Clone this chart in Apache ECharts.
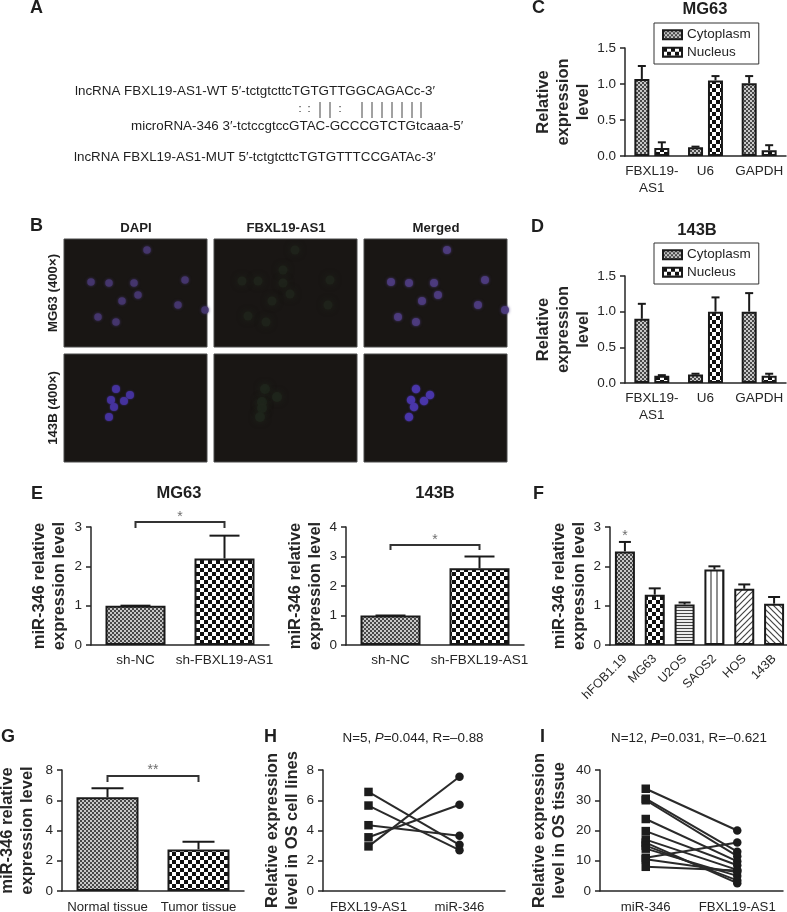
<!DOCTYPE html>
<html><head><meta charset="utf-8">
<style>html,body{margin:0;padding:0;background:#fff}#c{width:787px;height:912px}</style>
<script src="https://cdn.jsdelivr.net/npm/echarts@6/dist/echarts.min.js"></script>
</head><body><div id="c"></div>
<script>
// ---------- DATA ----------
const seqWT = "lncRNA FBXL19-AS1-WT 5′-tctgtcttcTGTGTTGGCAGACc-3′";
const seqMi = "microRNA-346 3′-tctccgtccGTAC-GCCCGTCTGtcaaa-5′";
const seqMUT = "lncRNA FBXL19-AS1-MUT 5′-tctgtcttcTGTGTTTCCGATAc-3′";

const cdCategories = ["FBXL19-\nAS1", "U6", "GAPDH"];
const cCyto = [1.07, 0.12, 1.01];
const cCytoTop = [1.25, 0.13, 1.11];
const cNuc = [0.11, 1.05, 0.08];
const cNucTop = [0.19, 1.11, 0.15];
const dCyto = [0.90, 0.12, 1.00];
const dCytoTop = [1.11, 0.13, 1.26];
const dNuc = [0.10, 1.00, 0.10];
const dNucTop = [0.11, 1.20, 0.13];

const eCategories = ["sh-NC", "sh-FBXL19-AS1"];
const e1Values = [1.0, 2.2];
const e1Top = [1.0, 2.78];
const e2Values = [1.0, 2.6];
const e2Top = [1.0, 3.0];

const fCategories = ["hFOB1.19", "MG63", "U2OS", "SAOS2", "HOS", "143B"];
const fValues = [2.38, 1.28, 1.03, 1.92, 1.43, 1.05];
const fTop = [2.62, 1.44, 1.08, 2.0, 1.54, 1.22];

const gCategories = ["Normal tissue", "Tumor tissue"];
const gValues = [6.2, 2.75];
const gTop = [6.8, 3.25];

const hCategories = ["FBXL19-AS1", "miR-346"];
const hLeft = [6.55, 5.65, 4.35, 3.55, 2.95];
const hRight = [3.05, 2.7, 3.65, 5.7, 7.55];

const iCategories = ["miR-346", "FBXL19-AS1"];
const iLeft = [33.8, 30.5, 30, 23.8, 19.8, 17, 16, 15, 14, 11, 10.5, 8];
const iRight = [20, 13, 11.5, 9.8, 8.5, 7, 2.6, 3.5, 5, 16, 6.3, 6.8];

const imgCols = ["DAPI", "FBXL19-AS1", "Merged"];
const imgRows = ["MG63 (400×)", "143B (400×)"];
const mg63Blue = [[83,11],[27,43],[45,44],[70,44],[121,41],[74,56],[58,62],[114,66],[141,71],[34,78],[52,83]];
const mg63Green = [[81,11],[28,42],[44,42],[69,31],[69,44],[76,55],[58,62],[116,41],[114,66],[34,77],[52,83]];
const b143Blue = [[52,35],[47,46],[66,41],[60,47],[50,53],[45,63]];
const b143Green = [[51,35],[48,48],[63,43],[48,54],[46,63]];

// ---------- STYLE HELPERS ----------
const FONT = '"Liberation Sans", Arial, sans-serif';
const INK = '#262626';
function tile(w, h, draw) {
  const c = document.createElement('canvas'); c.width = w; c.height = h;
  const x = c.getContext('2d'); draw(x); return { image: c, repeat: 'repeat' };
}
function checker(s, a, b) {
  return tile(2*s, 2*s, x => { x.fillStyle = b; x.fillRect(0,0,2*s,2*s); x.fillStyle = a; x.fillRect(0,0,s,s); x.fillRect(s,s,s,s); });
}
function stripes(dir) {
  return tile(6, 6, x => {
    x.fillStyle = '#fff'; x.fillRect(0,0,6,6); x.strokeStyle = '#444'; x.lineWidth = 1.2;
    const ln = (a,b,c,d) => { x.beginPath(); x.moveTo(a,b); x.lineTo(c,d); x.stroke(); };
    if (dir === 'h') { ln(0,1.5,6,1.5); ln(0,4.5,6,4.5); }
    else if (dir === 'v') { ln(3,0,3,6); }
    else if (dir === '/') { ln(-1,7,7,-1); ln(-1,1,1,-1); ln(5,7,7,5); }
    else { ln(-1,-1,7,7); ln(5,-1,7,1); ln(-1,5,1,7); }
  });
}
const fine = checker(2, '#484848', '#c8c8c8');
const coarse = checker(4, '#111', '#fff');
const hLines = stripes('h'), vLines = stripes('v'), dUp = stripes('/'), dDown = stripes('\\');

const grid = [], xAxis = [], yAxis = [], series = [], legend = [], title = [];

function addAxes(box, cats, max, interval, name, nameGap, opts) {
  opts = opts || {};
  grid.push(Object.assign({ containLabel: false, outerBoundsMode: 'none' }, box));
  const idx = grid.length - 1;
  xAxis.push({ gridIndex: idx, type: 'category', data: cats,
    axisLine: { lineStyle: { color: INK, width: 1.5 } },
    axisTick: { alignWithLabel: true, length: 4, lineStyle: { color: INK, width: 1.5 } },
    axisLabel: Object.assign({ interval: 0, color: INK, fontFamily: FONT, fontSize: 13.5, lineHeight: 17, margin: 7 }, opts.xLabel || {}) });
  yAxis.push({ gridIndex: idx, type: 'value', min: 0, max, interval, name, nameLocation: 'middle', nameGap, nameRotate: 90,
    nameTextStyle: { color: INK, fontFamily: FONT, fontSize: 16.5, fontWeight: 'bold', lineHeight: 20 },
    splitLine: { show: false },
    axisLine: { show: true, lineStyle: { color: INK, width: 1.5 } },
    axisTick: { show: true, length: 5, lineStyle: { color: INK, width: 1.5 } },
    axisLabel: { color: INK, fontFamily: FONT, fontSize: 13.5, margin: 9, formatter: opts.fmt } });
  return idx;
}
function bars(idx, name, values, color, width, gap) {
  const items = values.map((v, i) => ({ value: v, itemStyle: { color: Array.isArray(color) ? color[i] : color } }));
  series.push({ type: 'bar', name, xAxisIndex: idx, yAxisIndex: idx, data: items, barWidth: width, barGap: gap,
    itemStyle: { color: Array.isArray(color) ? color[0] : color, borderColor: '#1a1a1a', borderWidth: 2 }, animation: false, z: 3 });
}
function errors(idx, values, tops, cap, offset) {
  series.push({ type: 'custom', xAxisIndex: idx, yAxisIndex: idx, z: 2, animation: false, silent: true,
    data: values.map((v, i) => [i, v, tops[i]]),
    renderItem(p, api) {
      const a = api.coord([api.value(0), api.value(1)]), b = api.coord([api.value(0), api.value(2)]);
      const x = a[0] + (offset || 0);
      const st = { stroke: '#1a1a1a', lineWidth: 2, fill: null };
      return { type: 'group', children: [
        { type: 'line', shape: { x1: x, y1: a[1], x2: x, y2: b[1] }, style: st },
        { type: 'line', shape: { x1: x - cap/2, y1: b[1], x2: x + cap/2, y2: b[1] }, style: st } ] };
    } });
}
function bracket(idx, i0, i1, top, drop, star, starGap) {
  series.push({ type: 'custom', xAxisIndex: idx, yAxisIndex: idx, z: 4, animation: false, silent: true,
    data: [[i0, top, i1, drop]],
    renderItem(p, api) {
      const l = api.coord([api.value(0), api.value(1)]), r = api.coord([api.value(2), api.value(1)]);
      const yd = api.coord([api.value(0), api.value(3)])[1];
      return { type: 'group', children: [
        { type: 'polyline', shape: { points: [[l[0], yd], [l[0], l[1]], [r[0], l[1]], [r[0], yd]] }, style: { stroke: '#333', lineWidth: 2, fill: null } },
        { type: 'text', style: { text: star, x: (l[0]+r[0])/2, y: l[1] - (starGap || 0), align: 'center', verticalAlign: 'middle', fill: '#6e6e6e', font: '14px ' + FONT } } ] };
    } });
}
function pairs(idx, left, right) {
  left.forEach((v, i) => series.push({ type: 'line', xAxisIndex: idx, yAxisIndex: idx, animation: false, silent: true,
    data: [{ value: v, symbol: 'rect' }, { value: right[i], symbol: 'circle' }], symbolSize: 8.5, showSymbol: true,
    lineStyle: { color: '#2a2a2a', width: 2 }, itemStyle: { color: '#1c1c1c' } }));
}
function addTitle(text, left, top, style) {
  title.push({ text, left, top, padding: 0, textAlign: 'center', textStyle: Object.assign({ color: '#1f1f1f', fontFamily: FONT, fontSize: 16.5, fontWeight: 'bold' }, style || {}) });
}
function addLegend(idx, left, top) {
  legend.push({ orient: 'vertical', left, top, selectedMode: false, data: ['Cytoplasm', 'Nucleus'], icon: 'rect', itemWidth: 19, itemHeight: 9, itemGap: 2,
    padding: [4, 8, 4, 8], borderColor: '#333', borderWidth: 1, backgroundColor: '#fff', z: 6,
    textStyle: { color: INK, fontFamily: FONT, fontSize: 13.5, lineHeight: 15.5, padding: [0, 0, 0, 0] } });
}

// ---------- C / D ----------
const relName = "Relative\nexpression\nlevel";
const fmt1 = v => v.toFixed(1);
[[48, 108, cCyto, cCytoTop, cNuc, cNucTop, 23], [276, 107, dCyto, dCytoTop, dNuc, dNucTop, 243]].forEach(r => {
  const id = addAxes({ left: 625, top: r[0], width: 161, height: r[1] }, cdCategories, 1.5, 0.5, relName, 32, { fmt: fmt1 });
  bars(id, 'Cytoplasm', r[2], fine, 15, '33%');
  bars(id, 'Nucleus', r[4], coarse, 15, '33%');
  errors(id, r[2], r[3], 8, -10);
  errors(id, r[4], r[5], 8, 10);
  addLegend(id, 654, r[6]);
});
addTitle('MG63', 705, 1);
addTitle('143B', 697, 222);

// ---------- E ----------
const mirName = "miR-346 relative\nexpression level";
let id = addAxes({ left: 91, top: 527, width: 178, height: 118 }, eCategories, 3, 1, mirName, 22);
bars(id, 'E1', e1Values, [fine, coarse], 60);
errors(id, e1Values, e1Top, 30);
bracket(id, 0, 1, 3.127, 2.975, '*', 5);
addTitle('MG63', 179, 485);

id = addAxes({ left: 346, top: 527, width: 178, height: 118 }, eCategories, 4, 1, mirName, 20);
bars(id, 'E2', e2Values, [fine, coarse], 60);
errors(id, e2Values, e2Top, 30);
bracket(id, 0, 1, 3.39, 3.22, '*', 5);
addTitle('143B', 435, 485);

// ---------- F ----------
id = addAxes({ left: 610, top: 527, width: 179, height: 118 }, fCategories, 3, 1, mirName, 21,
  { xLabel: { rotate: 45, margin: 12, fontSize: 12.5, lineHeight: 14 } });
bars(id, 'F', fValues, [fine, coarse, hLines, vLines, dUp, dDown], 20);
errors(id, fValues, fTop, 12);
series.push({ type: 'custom', xAxisIndex: id, yAxisIndex: id, z: 4, animation: false, silent: true, data: [[0, 2.78]],
  renderItem(p, api) { const c = api.coord([api.value(0), api.value(1)]);
    return { type: 'text', style: { text: '*', x: c[0], y: c[1], align: 'center', verticalAlign: 'middle', fill: '#6e6e6e', font: '14px ' + FONT } }; } });

// ---------- G ----------
const lowLabel = { xLabel: { margin: 8, fontSize: 13.2 } };
id = addAxes({ left: 62, top: 770, width: 182, height: 121 }, gCategories, 8, 2, mirName, 25, lowLabel);
bars(id, 'G', gValues, [fine, coarse], 62);
errors(id, gValues, gTop, 32);
bracket(id, 0, 1, 7.6, 7.2, '**', 6);

// ---------- H ----------
id = addAxes({ left: 323, top: 770, width: 182, height: 121 }, hCategories, 8, 2, "Relative expression\nlevel in OS cell lines", 21, lowLabel);
pairs(id, hLeft, hRight);
const plain = { fontSize: 13.4, fontWeight: 'normal', color: '#222', fontFamily: FONT };
title.push({ text: '{a|N=5, }{i|P}{a|=0.044, R=–0.88}', left: 413, top: 732, padding: 0, textAlign: 'center',
  textStyle: { rich: { a: plain, i: Object.assign({}, plain, { fontStyle: 'italic' }) } } });

// ---------- I ----------
id = addAxes({ left: 600, top: 770, width: 183, height: 121 }, iCategories, 40, 10, "Relative expression\nlevel in OS tissue", 31, lowLabel);
pairs(id, iLeft, iRight);
title.push({ text: '{a|N=12, }{i|P}{a|=0.031, R=–0.621}', left: 689, top: 732, padding: 0, textAlign: 'center',
  textStyle: { rich: { a: plain, i: Object.assign({}, plain, { fontStyle: 'italic' }) } } });

// ---------- B: micrographs ----------
function addImage(left, top, cells, color, size, blur) {
  grid.push({ left, top, width: 143, height: 108, show: true, outerBoundsMode: 'none', backgroundColor: '#191614', borderColor: '#4a4a4a', borderWidth: 1 });
  const i = grid.length - 1;
  xAxis.push({ gridIndex: i, type: 'value', min: 0, max: 143, show: false });
  yAxis.push({ gridIndex: i, type: 'value', min: 0, max: 108, inverse: true, show: false });
  series.push({ type: 'scatter', xAxisIndex: i, yAxisIndex: i, data: cells, symbolSize: size, silent: true, animation: false,
    itemStyle: { color, shadowBlur: blur, shadowColor: color, opacity: 0.9 } });
}
const colX = [64, 214, 364], rowY = [239, 354];
addImage(colX[0], rowY[0], mg63Blue, '#46366f', 7.5, 3);
addImage(colX[1], rowY[0], mg63Green, '#1f241b', 9, 6);
addImage(colX[2], rowY[0], mg63Blue, '#4e3c80', 8, 3);
addImage(colX[0], rowY[1], b143Blue, '#4633a0', 8, 2);
addImage(colX[1], rowY[1], b143Green, '#1f261c', 10, 6);
addImage(colX[2], rowY[1], b143Blue, '#4a36ac', 8.5, 2);

// ---------- Annotation text ----------
const g = [];
function txt(text, x, y, font, opts) {
  g.push(Object.assign({ type: 'text', x, y, style: Object.assign({ text, font, fill: '#1f1f1f', align: 'left', verticalAlign: 'middle' }, opts && opts.style || {}) }, opts && opts.el || {}));
}
const letter = 'bold 18px ' + FONT;
[['A',30,8],['C',532,8],['B',30,226],['D',531,227],['E',31,494],['F',533,494],['G',1,737],['H',264,737],['I',540,737]]
  .forEach(l => txt(l[0], l[1], l[2], letter));
const seqFont = '13.4px ' + FONT;
txt(seqWT, 75, 91, seqFont);
txt(seqMi, 131, 126, seqFont);
txt(seqMUT, 74, 157, seqFont);
[300, 309, 340].forEach(x => txt(':', x, 109, '11px ' + FONT, { style: { align: 'center' } }));
[320, 330, 362, 372, 382, 392, 402, 412, 421].forEach(x => g.push({ type: 'line', shape: { x1: x, y1: 102, x2: x, y2: 118 }, style: { stroke: '#444', lineWidth: 1 } }));
const imgFont = 'bold 13.2px ' + FONT;
imgCols.forEach((t, i) => txt(t, colX[i] + 72, 228, imgFont, { style: { align: 'center' } }));
imgRows.forEach((t, i) => txt(t, 53, rowY[i] + 54, imgFont, { style: { align: 'center' }, el: { rotation: Math.PI / 2 } }));

const chart = echarts.init(document.getElementById('c'), null, { renderer: 'canvas' });
chart.setOption({ animation: false, backgroundColor: '#fff', grid, xAxis, yAxis, series, legend, title, graphic: { elements: g } });
</script></body></html>
